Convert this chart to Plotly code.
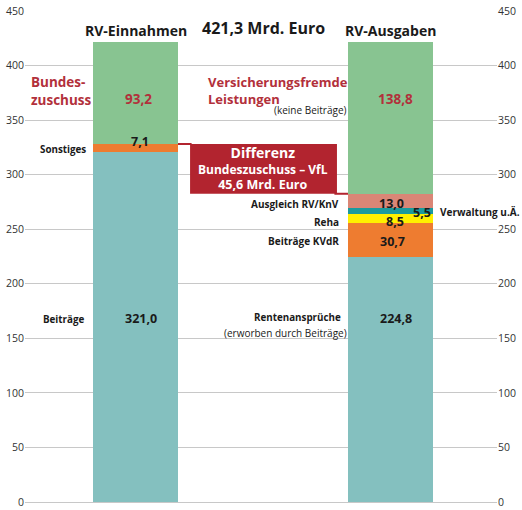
import plotly.graph_objects as go

# ---------------- data ----------------
categories = ["RV-Einnahmen", "RV-Ausgaben"]

einnahmen_labels = ["Beiträge", "Sonstiges", "Bundeszuschuss"]
einnahmen_values = [321.0, 7.1, 93.2]

ausgaben_labels = ["Rentenansprüche", "Beiträge KVdR", "Reha", "Verwaltung u.Ä.",
                   "Ausgleich RV/KnV", "Versicherungsfremde Leistungen"]
ausgaben_values = [224.8, 30.7, 8.5, 5.5, 13.0, 138.8]

y_ticks = [0, 50, 100, 150, 200, 250, 300, 350, 400, 450]

# ---------------- styles ----------------
TEAL = "#84C0BF"
ORANGE = "#EE7C30"
GREEN = "#88C491"
SALMON = "#DA8676"
DARKTEAL = "#1A9A9E"
YELLOW = "#FFF000"
RED_TXT = "#B2303B"
RED_BOX = "#B2242F"
FONT = "Open Sans"

einnahmen_colors = [TEAL, ORANGE, GREEN]
ausgaben_colors = [TEAL, ORANGE, YELLOW, DARKTEAL, SALMON, GREEN]

BAR_W = 1 / 3


def fmt(v):
    return f"{v:.1f}".replace(".", ",")


fig = go.Figure()
for lab, val, col in zip(einnahmen_labels, einnahmen_values, einnahmen_colors):
    fig.add_trace(go.Bar(x=[categories[0]], y=[val], name=lab, width=BAR_W,
                         marker=dict(color=col, line=dict(width=0)),
                         showlegend=False, hoverinfo="skip"))
for lab, val, col in zip(ausgaben_labels, ausgaben_values, ausgaben_colors):
    fig.add_trace(go.Bar(x=[categories[1]], y=[val], name=lab, width=BAR_W,
                         marker=dict(color=col, line=dict(width=0)),
                         showlegend=False, hoverinfo="skip"))
# invisible trace so the right axis renders
fig.add_trace(go.Scatter(x=[categories[0]], y=[0], yaxis="y2", mode="markers",
                         marker=dict(opacity=0), showlegend=False, hoverinfo="skip"))

total_ein = sum(einnahmen_values)
total_aus = sum(ausgaben_values)
cum_ein = [sum(einnahmen_values[:i + 1]) for i in range(len(einnahmen_values))]
cum_aus = [sum(ausgaben_values[:i + 1]) for i in range(len(ausgaben_values))]

ann = []


def add(text, x, y, size, color="#1a1a1a", bold=True, xanchor="center", yanchor="middle",
        align="center", xshift=0, yshift=0):
    ann.append(dict(text=text, x=x, y=y, xref="x", yref="y", showarrow=False,
                    xanchor=xanchor, yanchor=yanchor, align=align, xshift=xshift,
                    yshift=yshift, borderpad=0,
                    font=dict(family=FONT, size=size, color=color,
                              weight=700 if bold else 400)))


# headers
add(categories[0], 0, total_ein, 14, yanchor="bottom", yshift=1)
add(categories[1], 1, total_aus, 14, yanchor="bottom", yshift=1)
add(f"{fmt(total_ein)} Mrd. Euro", 0.5, total_ein, 16, yanchor="bottom", yshift=2)

# value labels left bar
add(fmt(einnahmen_values[0]), 0, 168.6, 12.5, xshift=5)
add(fmt(einnahmen_values[1]), 0, 330.0, 12.5, xshift=4)
add(fmt(einnahmen_values[2]), 0, 369.3, 13.5, color=RED_TXT, xshift=3)

# value labels right bar
add(fmt(ausgaben_values[0]), 1, 168.6, 12.5, xshift=5)
add(fmt(ausgaben_values[1]), 1, 238.3, 12.5, xshift=2)
add(fmt(ausgaben_values[2]), 1, 257.5, 12.5, xshift=4)
add(fmt(ausgaben_values[3]), 1.1235, 264.9, 12.5)
add(fmt(ausgaben_values[4]), 1, 274.0, 12.5, xshift=1)
add(fmt(ausgaben_values[5]), 1, 369.3, 13.5, color=RED_TXT, xshift=5)

# side labels left
add("Bundes-<br>zuschuss", -0.4137, 376.7, 13.5, color=RED_TXT, xanchor="left", align="left")
add("Sonstiges", -0.190, 323.5, 9.8, xanchor="right")
add("Beiträge", -0.194, 167.7, 9.8, xanchor="right")

# side labels right
add("Versicherungsfremde<br>Leistungen", 0.280, 377.5, 13, color=RED_TXT,
    xanchor="left", align="left")
add("(keine Beiträge)", 0.8333, 359.5, 10, bold=False, xanchor="right")
add("Ausgleich RV/KnV", 0.802, 273.0, 10, xanchor="right")
add("Reha", 0.802, 256.6, 10, xanchor="right")
add("Beiträge KVdR", 0.802, 239.2, 10, xanchor="right")
add("Verwaltung u.Ä.", 1.190, 265.8, 10, xanchor="left")
add("Rentenansprüche", 0.810, 169.5, 9.8, xanchor="right")
add("(erworben durch Beiträge)", 0.8333, 154.9, 10, bold=False, xanchor="right")

# Differenz box
box_top = cum_ein[1]
box_bot = cum_aus[4]
diff = ausgaben_values[5] - einnahmen_values[2]
add('<span style="font-size:14px">Differenz</span><br>Bundeszuschuss – VfL<br>'
    f'<span style="font-size:12.5px">{fmt(diff)} Mrd. Euro</span>',
    0.5, (box_top + box_bot) / 2 + 0.5, 12, color="white")

shapes = [
    dict(type="rect", xref="x", yref="y", x0=0.214, x1=0.790, y0=box_bot, y1=box_top,
         fillcolor=RED_BOX, line=dict(width=0), layer="above"),
    dict(type="line", xref="x", yref="y", x0=BAR_W / 2, x1=0.22, y0=box_top, y1=box_top,
         line=dict(color=RED_BOX, width=2), layer="above"),
    dict(type="line", xref="x", yref="y", x0=0.78, x1=1 - BAR_W / 2, y0=box_bot, y1=box_bot,
         line=dict(color=RED_BOX, width=2), layer="above"),
]

tickfont = dict(family=FONT, size=10.5, color="#333333")
fig.update_layout(
    width=522, height=510,
    margin=dict(l=25, r=25, t=11, b=8, autoexpand=False),
    paper_bgcolor="white", plot_bgcolor="white",
    barmode="stack", bargap=0,
    xaxis=dict(type="category", categoryorder="array", categoryarray=categories,
               range=[-0.4333, 1.4176], visible=False, fixedrange=True, automargin=False),
    yaxis=dict(range=[0, 450], tickvals=y_ticks, ticktext=[str(t) for t in y_ticks],
               showgrid=True, gridcolor="#C8C8C8", gridwidth=1.2,
               zeroline=True, zerolinecolor="#C8C8C8", zerolinewidth=1.2,
               showline=False, ticks="", tickfont=tickfont, fixedrange=True,
               automargin=False),
    yaxis2=dict(range=[0, 450], tickvals=y_ticks, ticktext=[str(t) for t in y_ticks],
                overlaying="y", side="right", showgrid=False, zeroline=False,
                showline=False, ticks="", tickfont=tickfont, fixedrange=True,
                automargin=False),
    annotations=ann, shapes=shapes,
    font=dict(family=FONT),
)

fig.write_html("out.html", config={"displayModeBar": False},
               post_script="document.body.style.margin='0';document.body.style.overflow='hidden';")
